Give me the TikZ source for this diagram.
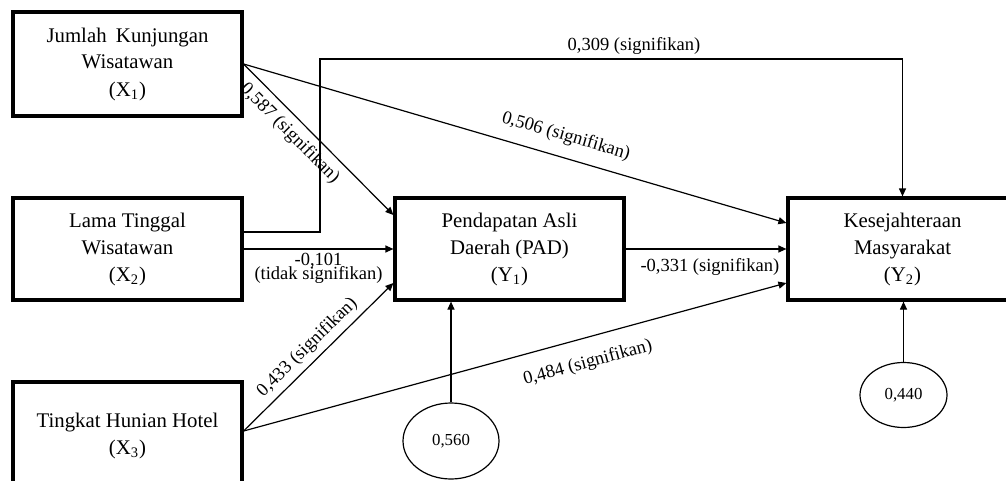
\documentclass[tikz,border=0pt]{standalone}
\usepackage{fontspec}
\setmainfont{Liberation Serif}
\usetikzlibrary{arrows.meta,shapes.geometric}
\begin{document}
\begin{tikzpicture}[x=0.5pt,y=-0.5pt,
  box/.style={draw, line width=1.6pt, rectangle, minimum width=114.5pt, minimum height=51pt, align=center, inner sep=0pt, font=\fontsize{10.4}{13.5}\selectfont},
  conn/.style={line width=0.6pt, -{Triangle[length=4pt,width=3.5pt]}},
  lbl/.style={font=\fontsize{9.25}{11}\selectfont},
  errnode/.style={draw, ellipse, line width=0.6pt, inner sep=0pt, font=\fontsize{8.4}{10}\selectfont}]
\clip (0,0) rectangle (1006,481);
\fill[white] (0,0) rectangle (1006,481);

\node[box, minimum height=52pt] (X1) at (127.5,64) {Jumlah\hspace{0.45em}Kunjungan\\Wisatawan\\(X\textsubscript{1})};
\node[box] (X2) at (127.5,249) {Lama Tinggal\\Wisatawan\\(X\textsubscript{2})};
\node[box, minimum height=54pt] (X3) at (127.5,436) {Tingkat Hunian Hotel\\(X\textsubscript{3})};
\node[box] (Y1) at (509.5,249) {Pendapatan Asli\\Daerah (PAD)\\(Y\textsubscript{1})};
\node[box] (Y2) at (902.5,249) {Kesejahteraan\\Masyarakat\\(Y\textsubscript{2})};
\node[errnode, minimum width=48pt, minimum height=38pt] (e1) at (451,441) {0,560};
\node[errnode, minimum width=43.5pt, minimum height=32.5pt] (e2) at (903.5,395) {0,440};
\coordinate (k) at (320,59);

\draw[conn] (X1.east) -- node[lbl, sloped, above, inner sep=6pt, pos=0.583] {0,506 (signifikan)} ([yshift=13pt]Y2.west);
\draw[conn] (X1.east) -- node[lbl, sloped, below, inner sep=3.5pt, pos=0.385] {0,587 (signifikan)} ([yshift=17pt]Y1.west);
\draw[conn] ([yshift=8.5pt]X2.east) -| (k) -- node[lbl, above, inner sep=2.1pt, pos=0.539] {0,309 (signifikan)} (k -| Y2.north) -- (Y2.north);
\draw[conn] (X2.east) -- node[lbl, below, align=center, inner sep=1.8pt, font={\fontsize{9.25}{7}\selectfont\lineskiplimit=-20pt}] {-0,101\\(tidak signifikan)} (Y1.west);
\draw[conn] ([yshift=2.5pt]X3.east) -- node[lbl, sloped, above, inner sep=2.7pt, pos=0.494] {0,433 (signifikan)} ([yshift=-17pt]Y1.west);
\draw[conn] ([yshift=2.5pt]X3.east) -- node[lbl, sloped, below, inner sep=8pt, pos=0.622] {0,484 (signifikan)} ([yshift=-17pt]Y2.west);
\draw[conn] (Y1.east) -- node[lbl, below, inner sep=4.2pt, pos=0.524] {-0,331 (signifikan)} (Y2.west);
\draw[conn] (e1.north) -- (e1.north |- Y1.south);
\draw[conn] (e2.north) -- (e2.north |- Y2.south);
\end{tikzpicture}
\end{document}
